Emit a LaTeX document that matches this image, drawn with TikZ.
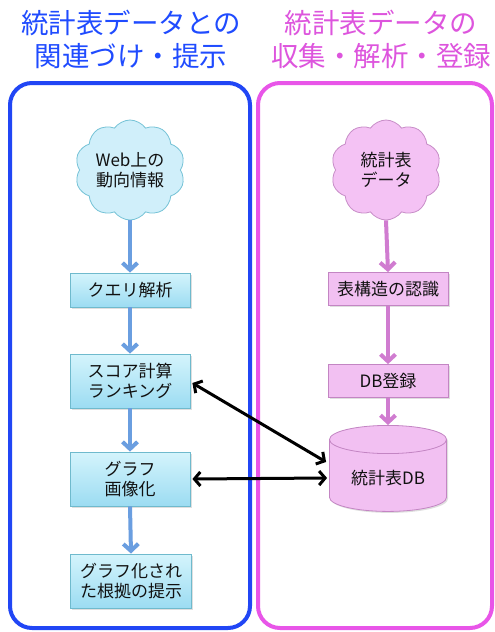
\documentclass[tikz,border=0pt]{standalone}
\usepackage{fontspec}
\setmainfont{Noto Sans CJK JP}
\usetikzlibrary{shapes.symbols,shapes.geometric,arrows.meta,shadows}
\definecolor{frameblue}{HTML}{2146F5}
\definecolor{titleblue}{HTML}{1F4BFF}
\definecolor{framepink}{HTML}{E855E8}
\definecolor{titlepink}{HTML}{DD55DD}
\definecolor{bboxtop}{HTML}{D4F4FC}
\definecolor{bboxbot}{HTML}{9CDCF2}
\definecolor{bboxline}{HTML}{6FBACD}
\definecolor{pboxfill}{HTML}{F2C0F2}
\definecolor{pboxline}{HTML}{C385C3}
\definecolor{bcloudfill}{HTML}{D0EFFA}
\definecolor{bcloudline}{HTML}{74C2D6}
\definecolor{pcloudfill}{HTML}{F4C2F4}
\definecolor{pcloudline}{HTML}{C78CC7}
\definecolor{barrow}{HTML}{6A9EE0}
\definecolor{parrow}{HTML}{D07CD0}
\definecolor{txt}{HTML}{111111}
\tikzset{
  titletext/.style={align=center, font=\fontsize{27.5}{33}\selectfont, inner sep=0pt},
  frame/.style={line width=4pt, rounded corners=22pt, fill=white},
  bbox/.style={draw=bboxline, line width=0.8pt, top color=bboxtop, bottom color=bboxbot,
    minimum width=120pt, minimum height=34pt, align=center, text=txt,
    font=\fontsize{17}{20}\selectfont, inner sep=2pt,
    drop shadow={shadow xshift=1.5pt, shadow yshift=-1.5pt, opacity=0.25}},
  pbox/.style={draw=pboxline, line width=0.8pt, fill=pboxfill,
    minimum width=120pt, minimum height=33pt, align=center, text=txt,
    font=\fontsize{17}{20}\selectfont, inner sep=2pt,
    drop shadow={shadow xshift=1.5pt, shadow yshift=-1.5pt, opacity=0.25}},
  bcloud/.style={cloud, cloud puffs=10, cloud puff arc=110, cloud ignores aspect, draw=bcloudline, line width=0.8pt,
    fill=bcloudfill, minimum width=110pt, minimum height=100pt, align=center, text=txt,
    font=\fontsize{17}{20}\selectfont, inner sep=0pt},
  pcloud/.style={bcloud, draw=pcloudline, fill=pcloudfill},
  barr/.style={draw=barrow, line width=4pt, -{Straight Barb[length=7pt, width=15pt, line width=4pt]}},
  parr/.style={draw=parrow, line width=4pt, -{Straight Barb[length=7pt, width=15pt, line width=4pt]}},
  karr/.style={draw=black, line width=3pt, {Straight Barb[length=6pt, width=14pt, line width=3pt]}-{Straight Barb[length=6pt, width=14pt, line width=3pt]}},
}
\begin{document}
\begin{tikzpicture}[x=1pt, y=-1pt]
\useasboundingbox (0,0) rectangle (495,632);
% frames
\draw[frame, draw=frameblue] (10,83) rectangle (250,628);
\draw[frame, draw=framepink] (258,83) rectangle (492,628);
% titles
\node[titletext, text=titleblue] (t1) at (131,39) {統計表データとの\\関連づけ・提示};
\node[titletext, text=titlepink] (t2) at (381,39) {統計表データの\\収集・解析・登録};
% left column
\node[bcloud] (web) at (130,170) {Web上の\\動向情報};
\node[bbox] (query) at (130,290) {クエリ解析};
\node[bbox, minimum height=54pt] (score) at (130,381) {スコア計算\\ランキング};
\node[bbox, minimum height=54pt] (graph) at (130,479) {グラフ\\画像化};
\node[bbox, minimum height=54pt, minimum width=121pt] (present) at (131,581) {グラフ化され\\た根拠の提示};
% right column
\node[pcloud] (stat) at (386,170) {統計表\\データ};
\node[pbox] (struct) at (388,289) {表構造の認識};
\node[pbox] (reg) at (388,381) {DB登録};
\node[cylinder, shape border rotate=90, aspect=0.35, draw=pboxline, line width=0.8pt,
  fill=pboxfill, minimum width=117pt, minimum height=86pt, text=txt,
  font=\fontsize{17}{20}\selectfont,
  drop shadow={shadow xshift=1.5pt, shadow yshift=-1.5pt, opacity=0.25}] (db) at (388,478) {統計表DB};
% arrows
\draw[barr] (web.south) -- (query.north);
\draw[barr] (query.south) -- (score.north);
\draw[barr] (score.south) -- (graph.north);
\draw[barr] (graph.south) -- (present.north);
\draw[parr] (stat.south) -- (struct.north);
\draw[parr] (struct.south) -- (reg.north);
\draw[parr] (reg.south) -- (db.top);
\draw[karr] ([xshift=2pt, yshift=-2pt]score.east) -- ([xshift=-3pt, yshift=16pt]db.west);
\draw[karr] ([xshift=2pt]graph.east) -- ([xshift=-2pt]db.west);
\end{tikzpicture}
\end{document}
